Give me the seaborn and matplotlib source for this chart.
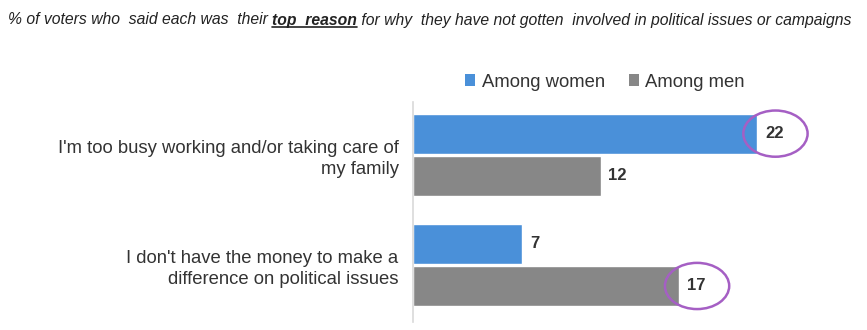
import matplotlib
matplotlib.use("Agg")
import matplotlib.pyplot as plt
from matplotlib.patches import Ellipse, Patch
import seaborn as sns
import pandas as pd

# Survey data
reasons = [
    "I'm too busy working and/or taking care of\nmy family",
    "I don't have the money to make a\ndifference on political issues",
]
groups = ["Among women", "Among men"]
women = [22, 7]
men = [12, 17]
highlighted = [(0, "Among women"), (1, "Among men")]

df = pd.DataFrame({
    "reason": reasons * 2,
    "group": [groups[0]] * len(reasons) + [groups[1]] * len(reasons),
    "value": women + men,
})

sns.set_theme(style="white")
plt.rcParams["font.family"] = ["Liberation Sans", "DejaVu Sans"]

W, H = 867, 330
fig = plt.figure(figsize=(W / 100, H / 100), dpi=100)
ax = fig.add_axes([412.5 / W, (H - 322) / H, 439 / W, 220 / H])

palette = {"Among women": "#4a90d9", "Among men": "#878787"}
sns.barplot(data=df, y="reason", x="value", hue="group", order=reasons,
            hue_order=groups, palette=palette, orient="h", width=0.77,
            gap=0.06, saturation=1, legend=False, ax=ax)

ax.set_xlim(0, 28)
ax.set_ylim(1.52, -0.48)
ax.set_xlabel("")
ax.set_ylabel("")
ax.set_xticks([])
for s in ["top", "right", "bottom"]:
    ax.spines[s].set_visible(False)
ax.spines["left"].set_color("#d9d9d9")
ax.spines["left"].set_linewidth(1.2)
ax.tick_params(axis="y", length=0, pad=10)
for lbl in ax.get_yticklabels():
    lbl.set_fontsize(13.3)
    lbl.set_color("#333333")
    lbl.set_horizontalalignment("right")
    lbl.set_multialignment("right")
    lbl.set_linespacing(1.3)

# Value labels and highlight rings
for container, grp in zip(ax.containers, groups):
    for i, bar in enumerate(container):
        val = bar.get_width()
        cy = bar.get_y() + bar.get_height() / 2
        ax.text(val + 0.5, cy, f"{val:g}", va="center", ha="left",
                fontsize=12, fontweight="bold", color="#333333")
        if (i, grp) in highlighted:
            ax.add_patch(Ellipse((val + 1.15, cy), width=4.1, height=0.42,
                                 fill=False, edgecolor="#a55fc4", lw=1.8,
                                 clip_on=False, zorder=5))

# Legend
handles = [Patch(facecolor=palette[g], edgecolor="none") for g in groups]
fig.legend(handles, groups, loc="center", bbox_to_anchor=(605 / W, 1 - 82 / H),
           ncol=2, frameon=False, fontsize=13.3, handlelength=0.55,
           handleheight=0.55, handletextpad=0.35, columnspacing=1.3,
           labelcolor="#333333")

# Title line with emphasised phrase
parts = [
    ("% of voters who  said each was  their ", "normal", False),
    ("top  reason", "bold", True),
    (" for why  they have not gotten  involved in political issues or campaigns", "normal", False),
]
x = 8
renderer = fig.canvas.get_renderer()
for txt, weight, ul in parts:
    t = fig.text(x / W, 1 - 20 / H, txt, fontsize=11.3, style="italic",
                 fontweight=weight, va="center", ha="left", color="#222222")
    bb = t.get_window_extent(renderer)
    if ul:
        fig.add_artist(plt.Line2D([bb.x0 / W, bb.x1 / W],
                                  [(bb.y0 + 1) / H, (bb.y0 + 1) / H],
                                  color="#222222", lw=1.2))
    x += bb.width

fig.savefig("out.png", dpi=100)
